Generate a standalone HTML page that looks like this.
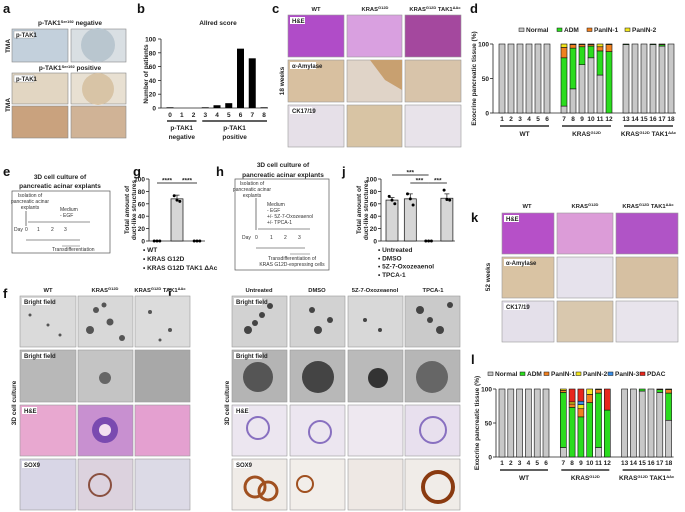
<!DOCTYPE html>
<html><head><meta charset="utf-8"><style>
html,body{margin:0;padding:0;background:#fff}
svg{display:block;font-family:"Liberation Sans",Arial,sans-serif}
.t{font-weight:bold;font-size:6.5px;fill:#222}
.ct{font-weight:bold;font-size:5.8px;fill:#222}
.s{font-size:5px;fill:#333}
.L{font-weight:bold;font-size:13px;fill:#111}
.lab{font-weight:bold;font-size:6px;fill:#222}
</style></head><body>
<svg id="fig" width="685" height="512" viewBox="0 0 685 512">
<g>
<text class="L" x="3" y="13">a</text><text class="L" x="137" y="13">b</text><text class="L" x="272" y="13">c</text><text class="L" x="470" y="13">d</text>
<text class="L" x="3" y="176">e</text><text class="L" x="133" y="176">g</text><text class="L" x="216" y="176">h</text><text class="L" x="342" y="176">j</text><text class="L" x="471" y="222">k</text>
<text class="L" x="3" y="298">f</text><text class="L" x="168" y="298">i</text><text class="L" x="471" y="364">l</text>
</g>

<g>
<text class="t" x="70" y="25" text-anchor="middle">p-TAK1<tspan font-size="4" dy="-2">Ser192</tspan><tspan dy="2"> negative</tspan></text>
<rect x="12" y="29" width="56" height="33" fill="#c3d0dc" stroke="#888" stroke-width="0.6"/>
<rect x="71" y="29" width="55" height="33" fill="#d9dfe3" stroke="#888" stroke-width="0.6"/>
<circle cx="98" cy="45" r="17" fill="#b9c6cf"/>
<rect x="14" y="31" width="20" height="7" fill="#fff" stroke="#888" stroke-width="0.4"/><text class="lab" x="16" y="37">p-TAK1</text>
<text class="t" x="70" y="70" text-anchor="middle">p-TAK1<tspan font-size="4" dy="-2">Ser192</tspan><tspan dy="2"> positive</tspan></text>
<rect x="12" y="73" width="56" height="31" fill="#e2d6c2" stroke="#888" stroke-width="0.6"/>
<rect x="71" y="73" width="55" height="31" fill="#e8e0d2" stroke="#888" stroke-width="0.6"/>
<circle cx="98" cy="89" r="16" fill="#d8c4a6"/>
<rect x="14" y="75" width="20" height="7" fill="#fff" stroke="#888" stroke-width="0.4"/><text class="lab" x="16" y="81">p-TAK1</text>
<rect x="12" y="106" width="56" height="32" fill="#c9a27e" stroke="#888" stroke-width="0.6"/>
<rect x="71" y="106" width="55" height="32" fill="#d0b396" stroke="#888" stroke-width="0.6"/>
<text class="t" transform="translate(10,46) rotate(-90)" text-anchor="middle">TMA</text>
<text class="t" transform="translate(10,105) rotate(-90)" text-anchor="middle">TMA</text>
</g>

<g>
<text class="ct" x="316" y="11" text-anchor="middle">WT</text>
<text class="ct" x="375" y="11" text-anchor="middle">KRAS<tspan font-size="4" dy="-2">G12D</tspan></text>
<text class="ct" x="435" y="11" text-anchor="middle">KRAS<tspan font-size="4" dy="-2">G12D</tspan><tspan dy="2"> TAK1</tspan><tspan font-size="4" dy="-2">ΔAc</tspan></text>
<rect x="288" y="15" width="56" height="42" fill="#b04cc8" stroke="#999" stroke-width="0.6"/>
<rect x="347" y="15" width="55" height="42" fill="#d9a0e0" stroke="#999" stroke-width="0.6"/>
<rect x="405" y="15" width="56" height="42" fill="#a4489e" stroke="#999" stroke-width="0.6"/>
<rect x="288" y="60" width="56" height="42" fill="#d8c0a0" stroke="#999" stroke-width="0.6"/>
<rect x="347" y="60" width="55" height="42" fill="#e0d4c8" stroke="#999" stroke-width="0.6"/>
<path d="M370,60 L402,60 L402,90 L385,80 Z" fill="#c8a070"/>
<rect x="405" y="60" width="56" height="42" fill="#d8c4aa" stroke="#999" stroke-width="0.6"/>
<rect x="288" y="105" width="56" height="42" fill="#e6e0e8" stroke="#999" stroke-width="0.6"/>
<rect x="347" y="105" width="55" height="42" fill="#d8c4a4" stroke="#999" stroke-width="0.6"/>
<rect x="405" y="105" width="56" height="42" fill="#e8e3ea" stroke="#999" stroke-width="0.6"/>
<rect x="290" y="17" width="15" height="7" fill="#fff"/><text class="lab" x="292" y="23">H&amp;E</text>
<rect x="290" y="62" width="26" height="7" fill="#fff"/><text class="lab" x="292" y="68">α-Amylase</text>
<rect x="290" y="107" width="22" height="7" fill="#fff"/><text class="lab" x="292" y="113">CK17/19</text>
<text class="t" transform="translate(284,81) rotate(-90)" text-anchor="middle">18 weeks</text>
</g>

<g>
<text class="ct" x="527" y="208" text-anchor="middle">WT</text>
<text class="ct" x="585" y="208" text-anchor="middle">KRAS<tspan font-size="4" dy="-2">G12D</tspan></text>
<text class="ct" x="648" y="208" text-anchor="middle">KRAS<tspan font-size="4" dy="-2">G12D</tspan><tspan dy="2"> TAK1</tspan><tspan font-size="4" dy="-2">ΔAc</tspan></text>
<rect x="502" y="213" width="52" height="41" fill="#b650c8" stroke="#999" stroke-width="0.6"/>
<rect x="557" y="213" width="56" height="41" fill="#dc9cd8" stroke="#999" stroke-width="0.6"/>
<rect x="616" y="213" width="62" height="41" fill="#b054c6" stroke="#999" stroke-width="0.6"/>
<rect x="502" y="257" width="52" height="41" fill="#d9c3a3" stroke="#999" stroke-width="0.6"/>
<rect x="557" y="257" width="56" height="41" fill="#e6e2ec" stroke="#999" stroke-width="0.6"/>
<rect x="616" y="257" width="62" height="41" fill="#d6c0a2" stroke="#999" stroke-width="0.6"/>
<rect x="502" y="301" width="52" height="41" fill="#e4e0ea" stroke="#999" stroke-width="0.6"/>
<rect x="557" y="301" width="56" height="41" fill="#d9c8ae" stroke="#999" stroke-width="0.6"/>
<rect x="616" y="301" width="62" height="41" fill="#e8e4ec" stroke="#999" stroke-width="0.6"/>
<rect x="504" y="215" width="15" height="7" fill="#fff"/><text class="lab" x="506" y="221">H&amp;E</text>
<rect x="504" y="259" width="26" height="7" fill="#fff"/><text class="lab" x="506" y="265">α-Amylase</text>
<rect x="504" y="303" width="22" height="7" fill="#fff"/><text class="lab" x="506" y="309">CK17/19</text>
<text class="t" transform="translate(490,277) rotate(-90)" text-anchor="middle">52 weeks</text>
</g>

<g>
<text class="t" x="60" y="179" text-anchor="middle">3D cell culture of</text>
<text class="t" x="60" y="188" text-anchor="middle">pancreatic acinar explants</text>
<rect x="12" y="191" width="98" height="62" fill="none" stroke="#555" stroke-width="0.7"/>
<text class="s" x="30" y="197" text-anchor="middle">Isolation of</text><text class="s" x="30" y="203" text-anchor="middle">pancreatic acinar</text><text class="s" x="30" y="209" text-anchor="middle">explants</text>
<line x1="26" y1="211" x2="26" y2="226" stroke="#222" stroke-width="0.6"/>
<text class="s" x="60" y="211">Medium</text><text class="s" x="60" y="217">- EGF</text>
<line x1="28" y1="222" x2="90" y2="222" stroke="#222" stroke-width="0.6"/>
<text class="s" x="14" y="231">Day</text><text class="s" x="25" y="231">0</text><text class="s" x="37" y="231">1</text><text class="s" x="51" y="231">2</text><text class="s" x="64" y="231">3</text>
<line x1="26" y1="240" x2="80" y2="240" stroke="#222" stroke-width="0.6"/>
<line x1="62" y1="246" x2="80" y2="246" stroke="#bbb" stroke-width="1.2"/>
<text class="s" x="52" y="251">Transdifferentiation</text>
</g>

<g>
<text class="t" x="283" y="167" text-anchor="middle">3D cell culture of</text>
<text class="t" x="283" y="177" text-anchor="middle">pancreatic acinar explants</text>
<rect x="235" y="179" width="94" height="91" fill="none" stroke="#555" stroke-width="0.7"/>
<text class="s" x="252" y="185" text-anchor="middle">Isolation of</text><text class="s" x="252" y="191" text-anchor="middle">pancreatic acinar</text><text class="s" x="252" y="197" text-anchor="middle">explants</text>
<line x1="256" y1="198" x2="256" y2="230" stroke="#222" stroke-width="0.6"/>
<text class="s" x="267" y="206">Medium</text><text class="s" x="267" y="212">- EGF</text><text class="s" x="267" y="218">+/- 5Z-7-Oxozeaenol</text><text class="s" x="267" y="224">+/- TPCA-1</text>
<line x1="258" y1="229" x2="310" y2="229" stroke="#222" stroke-width="0.6"/>
<text class="s" x="242" y="239">Day</text><text class="s" x="255" y="239">0</text><text class="s" x="270" y="239">1</text><text class="s" x="284" y="239">2</text><text class="s" x="298" y="239">3</text>
<line x1="256" y1="248" x2="305" y2="248" stroke="#222" stroke-width="0.6"/>
<line x1="290" y1="254" x2="310" y2="254" stroke="#bbb" stroke-width="1.2"/>
<text class="s" x="292" y="260" text-anchor="middle">Transdifferentiation of</text><text class="s" x="292" y="266" text-anchor="middle">KRAS G12D-expressing cells</text>
</g>

<g>
<text class="ct" x="48" y="292" text-anchor="middle">WT</text>
<text class="ct" x="105" y="292" text-anchor="middle">KRAS<tspan font-size="4" dy="-2">G12D</tspan></text>
<text class="ct" x="160" y="292" text-anchor="middle">KRAS<tspan font-size="4" dy="-2">G12D</tspan><tspan dy="2"> TAK1</tspan><tspan font-size="4" dy="-2">ΔAc</tspan></text>
<rect x="20" y="296" width="56" height="51" fill="#dadada" stroke="#999" stroke-width="0.6"/>
<rect x="78" y="296" width="55" height="51" fill="#d8d8d8" stroke="#999" stroke-width="0.6"/>
<rect x="135" y="296" width="55" height="51" fill="#dcdcdc" stroke="#999" stroke-width="0.6"/>
<g fill="#555"><circle cx="96" cy="310" r="3"/><circle cx="110" cy="322" r="3.5"/><circle cx="90" cy="330" r="4"/><circle cx="122" cy="338" r="3"/><circle cx="104" cy="305" r="2.5"/>
<circle cx="30" cy="315" r="1.5"/><circle cx="48" cy="325" r="1.5"/><circle cx="60" cy="335" r="1.5"/><circle cx="150" cy="312" r="2"/><circle cx="170" cy="330" r="2"/><circle cx="160" cy="340" r="1.5"/></g>
<rect x="20" y="350" width="56" height="52" fill="#b8b8b8" stroke="#999" stroke-width="0.6"/>
<rect x="78" y="350" width="55" height="52" fill="#c4c4c4" stroke="#999" stroke-width="0.6"/>
<rect x="135" y="350" width="55" height="52" fill="#a8a8a8" stroke="#999" stroke-width="0.6"/>
<rect x="20" y="405" width="56" height="51" fill="#e8a8d0" stroke="#999" stroke-width="0.6"/>
<rect x="78" y="405" width="55" height="51" fill="#c890d0" stroke="#999" stroke-width="0.6"/>
<rect x="135" y="405" width="55" height="51" fill="#e4a0d0" stroke="#999" stroke-width="0.6"/>
<rect x="20" y="459" width="56" height="51" fill="#d8d6e6" stroke="#999" stroke-width="0.6"/>
<rect x="78" y="459" width="55" height="51" fill="#dcd2de" stroke="#999" stroke-width="0.6"/>
<rect x="135" y="459" width="55" height="51" fill="#dcdae6" stroke="#999" stroke-width="0.6"/>
<circle cx="105" cy="378" r="6" fill="#666"/><circle cx="105" cy="430" r="13" fill="#7a4ab0"/><circle cx="105" cy="430" r="6" fill="#f3e0f0"/>
<circle cx="100" cy="485" r="11" fill="none" stroke="#8a5040" stroke-width="2"/>
<rect x="22" y="298" width="28" height="7" fill="#fff"/><text class="lab" x="24" y="304">Bright field</text>
<rect x="22" y="352" width="28" height="7" fill="#fff"/><text class="lab" x="24" y="358">Bright field</text>
<rect x="22" y="407" width="15" height="7" fill="#fff"/><text class="lab" x="24" y="413">H&amp;E</text>
<rect x="22" y="461" width="16" height="7" fill="#fff"/><text class="lab" x="24" y="467">SOX9</text>
<text class="t" transform="translate(16,403) rotate(-90)" text-anchor="middle">3D cell culture</text>
</g>

<g>
<text class="ct" x="259" y="292" text-anchor="middle">Untreated</text>
<text class="ct" x="317" y="292" text-anchor="middle">DMSO</text>
<text class="ct" x="375" y="292" text-anchor="middle">5Z-7-Oxozeaenol</text>
<text class="ct" x="433" y="292" text-anchor="middle">TPCA-1</text>
<rect x="232" y="296" width="55" height="51" fill="#d2d2d2" stroke="#999" stroke-width="0.6"/>
<rect x="290" y="296" width="55" height="51" fill="#d2d2d2" stroke="#999" stroke-width="0.6"/>
<rect x="348" y="296" width="55" height="51" fill="#d8d8d8" stroke="#999" stroke-width="0.6"/>
<rect x="405" y="296" width="55" height="51" fill="#cacaca" stroke="#999" stroke-width="0.6"/>
<g fill="#444"><circle cx="248" cy="330" r="4"/><circle cx="262" cy="315" r="3"/><circle cx="270" cy="306" r="3"/><circle cx="255" cy="323" r="3"/><circle cx="312" cy="310" r="3"/><circle cx="318" cy="330" r="4"/><circle cx="330" cy="320" r="3"/><circle cx="365" cy="320" r="2"/><circle cx="380" cy="330" r="2"/><circle cx="420" cy="310" r="4"/><circle cx="440" cy="330" r="4"/><circle cx="450" cy="305" r="3"/><circle cx="430" cy="320" r="3"/></g>
<rect x="232" y="350" width="55" height="52" fill="#b4b4b4" stroke="#999" stroke-width="0.6"/>
<rect x="290" y="350" width="55" height="52" fill="#b8b8b8" stroke="#999" stroke-width="0.6"/>
<rect x="348" y="350" width="55" height="52" fill="#bababa" stroke="#999" stroke-width="0.6"/>
<rect x="405" y="350" width="55" height="52" fill="#b6b6b6" stroke="#999" stroke-width="0.6"/>
<circle cx="258" cy="377" r="15" fill="#555"/><circle cx="318" cy="377" r="16" fill="#444"/><circle cx="378" cy="378" r="10" fill="#333"/><circle cx="432" cy="377" r="16" fill="#666"/>
<rect x="232" y="405" width="55" height="51" fill="#ece6f0" stroke="#999" stroke-width="0.6"/>
<rect x="290" y="405" width="55" height="51" fill="#ece6f0" stroke="#999" stroke-width="0.6"/>
<rect x="348" y="405" width="55" height="51" fill="#eee8f0" stroke="#999" stroke-width="0.6"/>
<rect x="405" y="405" width="55" height="51" fill="#e8e0ee" stroke="#999" stroke-width="0.6"/>
<circle cx="258" cy="428" r="11" fill="none" stroke="#8870c0" stroke-width="2"/><circle cx="320" cy="432" r="11" fill="none" stroke="#8870c0" stroke-width="2"/><circle cx="433" cy="430" r="13" fill="none" stroke="#8870c0" stroke-width="2"/>
<rect x="232" y="459" width="55" height="51" fill="#f0ece8" stroke="#999" stroke-width="0.6"/>
<rect x="290" y="459" width="55" height="51" fill="#f2eeea" stroke="#999" stroke-width="0.6"/>
<rect x="348" y="459" width="55" height="51" fill="#eee8e4" stroke="#999" stroke-width="0.6"/>
<rect x="405" y="459" width="55" height="51" fill="#f0ece8" stroke="#999" stroke-width="0.6"/>
<circle cx="255" cy="487" r="10" fill="none" stroke="#a05020" stroke-width="3"/><circle cx="268" cy="491" r="9" fill="none" stroke="#a05020" stroke-width="3"/><circle cx="305" cy="484" r="8" fill="none" stroke="#a05020" stroke-width="2"/><circle cx="438" cy="487" r="15" fill="none" stroke="#8a3a10" stroke-width="4"/>
<rect x="234" y="298" width="28" height="7" fill="#fff"/><text class="lab" x="236" y="304">Bright field</text>
<rect x="234" y="352" width="28" height="7" fill="#fff"/><text class="lab" x="236" y="358">Bright field</text>
<rect x="234" y="407" width="15" height="7" fill="#fff"/><text class="lab" x="236" y="413">H&amp;E</text>
<rect x="234" y="461" width="16" height="7" fill="#fff"/><text class="lab" x="236" y="467">SOX9</text>
<text class="t" transform="translate(229,403) rotate(-90)" text-anchor="middle">3D cell culture</text>
</g>
<g id="charts"></g>
</svg>
<script>
// ---- panel b data ----
const bCats = ['0','1','2','3','4','5','6','7','8'];
const bVals = [1, 0, 0, 1, 4, 7, 86, 72, 1];
const bTicks = [0, 20, 40, 60, 80, 100];
// ---- panel d data ----
const dSamples = ['1','2','3','4','5','6','7','8','9','10','11','12','13','14','15','16','17','18'];
const dNormal = [100,100,100,100,100,100,10,35,70,80,55,0,99,100,100,99,97,100];
const dADM    = [0,0,0,0,0,0,70,59,26,17,35,89,1,0,0,1,2,0];
const dPanIN1 = [0,0,0,0,0,0,15,5,3,2,6,10,0,0,0,0,1,0];
const dPanIN2 = [0,0,0,0,0,0,5,1,1,1,4,1,0,0,0,0,0,0];
const dTicks = [0, 50, 100];
// ---- panel l data ----
const lNormal = [100,100,100,100,100,100,14,0,0,0,14,0,100,100,97,100,95,54];
const lADM    = [0,0,0,0,0,0,81,73,59,80,80,69,0,0,3,0,4,40];
const lPanIN1 = [0,0,0,0,0,0,3,5,12,12,5,0,0,0,0,0,1,5];
const lPanIN2 = [0,0,0,0,0,0,2,3,6,8,1,0,0,0,0,0,0,1];
const lPanIN3 = [0,0,0,0,0,0,0,0,5,0,0,0,0,0,0,0,0,0];
const lPDAC   = [0,0,0,0,0,0,0,19,18,0,0,31,0,0,0,0,0,0];
// ---- panel g data ----
const gGroups = ['WT','KRAS G12D','KRAS G12D TAK1 ΔAc'];
const gMeans = [0, 68, 0];
const gErr = [0, 6, 0];
const gPoints = [[0,0,0],[73,66,64],[0,0,0]];
const gTicks = [0,20,40,60,80,100];
// ---- panel j data ----
const jGroups = ['Untreated','DMSO','5Z-7-Oxozeaenol','TPCA-1'];
const jMeans = [66, 68, 0, 69];
const jErr = [4, 8, 0, 7];
const jPoints = [[72,66,60],[76,68,58],[0,0,0],[82,67,66]];

const NS='http://www.w3.org/2000/svg';
const root=document.getElementById('charts');
function mk(tag,a,p){const e=document.createElementNS(NS,tag);for(const k in a)e.setAttribute(k,a[k]);(p||root).appendChild(e);return e;}
function txt(s,a,p){const e=mk('text',a,p);e.textContent=s;return e;}

(function(){
  const g=mk('g',{});
  
  
  const y=v=>108-v*0.69, x=i=>170+i*11.75;
  txt('Allred score',{x:218,y:25,'text-anchor':'middle',class:'t'},g);
  const ax=mk('path',{d:'M161,39V108H268',fill:'none',stroke:'#222','stroke-width':0.8},g);
  
  
  bTicks.forEach(t=>{mk('line',{x1:158,x2:161,y1:y(t),y2:y(t),stroke:'#222','stroke-width':0.8},g);
    const tl=txt(String(t),{x:156,y:y(t)+2.5,'text-anchor':'end',class:'t','font-weight':'normal'},g);
    
    });
  const yt=txt('Number of patients',{transform:'translate(148,74) rotate(-90)','text-anchor':'middle',class:'t'},g);
  
  
  bCats.forEach((c,i)=>{
    const r=mk('rect',{x:x(i)-3.5,y:y(bVals[i]),width:7,height:bVals[i]*0.69,fill:'#000'},g);
    
    
    txt(c,{x:x(i),y:117,'text-anchor':'middle',class:'t','font-weight':'normal','font-size':7},g);
  });
  mk('line',{x1:x(0)-3,x2:x(2)+3,y1:121,y2:121,stroke:'#000','stroke-width':1.2},g);
  mk('line',{x1:x(3)-3,x2:x(8)+3,y1:121,y2:121,stroke:'#000','stroke-width':1.2},g);
  txt('p-TAK1',{x:x(1),y:130,'text-anchor':'middle',class:'t'},g);
  txt('negative',{x:x(1),y:139,'text-anchor':'middle',class:'t'},g);
  txt('p-TAK1',{x:x(5.5),y:130,'text-anchor':'middle',class:'t'},g);
  txt('positive',{x:x(5.5),y:139,'text-anchor':'middle',class:'t'},g);
})();

function stacked(cfg){
  const g=mk('g',{});
  
  
  const y=v=>cfg.y0-v*(cfg.y0-cfg.y100)/100;
  const x=i=>cfg.x1+i*cfg.step+(i>=6?cfg.gap:0)+(i>=12?cfg.gap:0);
  const ax=mk('path',{d:`M${cfg.ax},${cfg.y100}V${cfg.y0}H${x(17)+5}`,fill:'none',stroke:'#222','stroke-width':0.8},g);
  
  
  dTicks.forEach(t=>{mk('line',{x1:cfg.ax-3,x2:cfg.ax,y1:y(t),y2:y(t),stroke:'#222','stroke-width':0.8},g);
    txt(String(t),{x:cfg.ax-4,y:y(t)+2.5,'text-anchor':'end',class:'t','font-weight':'normal'},g);});
  const yt=txt('Exocrine pancreatic tissue (%)',{transform:`translate(${cfg.ax-17},${(cfg.y0+cfg.y100)/2}) rotate(-90)`,'text-anchor':'middle',class:'t','font-size':6},g);
  
  
  dSamples.forEach((s,i)=>{
    let acc=0;
    cfg.series.forEach((ser,k)=>{
      const v=ser[i]; if(v<=0) return;
      const r=mk('rect',{x:x(i)-cfg.w/2,y:y(acc+v),width:cfg.w,height:y(acc)-y(acc+v),fill:cfg.colors[k],stroke:'#111','stroke-width':0.6},g);
      
      
      acc+=v;
    });
    txt(s,{x:x(i),y:cfg.y0+8,'text-anchor':'middle',class:'t','font-weight':'normal'},g);
  });
  const grp=[['WT',0,5],['KRAS',6,11],['KT',12,17]];
  grp.forEach(([n,a,b])=>{mk('line',{x1:x(a)-2,x2:x(b)+2,y1:cfg.y0+13,y2:cfg.y0+13,stroke:'#000','stroke-width':1.3},g);});
  txt('WT',{x:(x(0)+x(5))/2,y:cfg.y0+23,'text-anchor':'middle',class:'t'},g);
  const k1=txt('KRAS',{x:(x(6)+x(11))/2,y:cfg.y0+23,'text-anchor':'middle',class:'t'},g);
  const t2=mk('tspan',{'font-size':4,dy:-2},k1);t2.textContent='G12D';
  const k2=txt('KRAS',{x:(x(12)+x(17))/2,y:cfg.y0+23,'text-anchor':'middle',class:'t'},g);
  const t3=mk('tspan',{'font-size':4,dy:-2},k2);t3.textContent='G12D';
  const t4=mk('tspan',{dy:2},k2);t4.textContent=' TAK1';
  const t5=mk('tspan',{'font-size':4,dy:-2},k2);t5.textContent='ΔAc';
  let lx=cfg.legX;
  cfg.keys.forEach((kname,k)=>{
    const sw=mk('rect',{x:lx,y:cfg.legY-4,width:5,height:3.5,fill:cfg.colors[k],stroke:'#111','stroke-width':0.5},g);
    
    
    const lt=txt(cfg.labels[k],{x:lx+7,y:cfg.legY,class:'t'},g);
    
    
    lx+=cfg.legW[k];
  });
}
const C={N:'#c8c8c8',A:'#2bdc1e',P1:'#f08020',P2:'#f2e61e',P3:'#3a8ee6',PD:'#e8261c'};
stacked({name:'panel-d-chart',x1:502,step:9,gap:8,w:6,ax:493,y0:113,y100:44,
  series:[dNormal,dADM,dPanIN1,dPanIN2],colors:[C.N,C.A,C.P1,C.P2],keys:['normal','adm','panin1','panin2'],
  labels:['Normal','ADM','PanIN-1','PanIN-2'],legX:519,legY:32,legW:[38,30,38,32]});
stacked({name:'panel-l-chart',x1:502,step:8.8,gap:8.5,w:6,ax:496,y0:457,y100:389,
  series:[lNormal,lADM,lPanIN1,lPanIN2,lPanIN3,lPDAC],colors:[C.N,C.A,C.P1,C.P2,C.P3,C.PD],keys:['normal','adm','panin1','panin2','panin3','pdac'],
  labels:['Normal','ADM','PanIN-1','PanIN-2','PanIN-3','PDAC'],legX:488,legY:376,legW:[32,24,32,32,32,30]});

function dotbar(cfg){
  const g=mk('g',{});
  
  
  const y=v=>cfg.y0-v*(cfg.y0-cfg.y100)/100;
  const x=i=>cfg.xc0+i*cfg.step;
  const ax=mk('path',{d:`M${cfg.ax},${cfg.y100}V${cfg.y0}H${x(cfg.means.length-1)+8}`,fill:'none',stroke:'#222','stroke-width':0.8},g);
  
  
  gTicks.forEach(t=>{mk('line',{x1:cfg.ax-3,x2:cfg.ax,y1:y(t),y2:y(t),stroke:'#222','stroke-width':0.8},g);
    txt(String(t),{x:cfg.ax-4,y:y(t)+2.5,'text-anchor':'end',class:'t','font-weight':'normal','font-size':7},g);});
  const yt=txt('Total amount of',{transform:`translate(${cfg.ax-20},${(cfg.y0+cfg.y100)/2}) rotate(-90)`,'text-anchor':'middle',class:'t','font-size':7},g);
  
  
  txt('duct-like structures',{transform:`translate(${cfg.ax-13},${(cfg.y0+cfg.y100)/2}) rotate(-90)`,'text-anchor':'middle',class:'t','font-size':7},g);
  cfg.means.forEach((m,i)=>{
    if(m>0){
      const r=mk('rect',{x:x(i)-cfg.w/2,y:y(m),width:cfg.w,height:y(0)-y(m),fill:'#d6d6d6',stroke:'#111','stroke-width':0.7},g);
      
      
      mk('line',{x1:x(i),x2:x(i),y1:y(m),y2:y(m+cfg.err[i]),stroke:'#111','stroke-width':0.7},g);
      mk('line',{x1:x(i)-2.5,x2:x(i)+2.5,y1:y(m+cfg.err[i]),y2:y(m+cfg.err[i]),stroke:'#111','stroke-width':0.7},g);
    }
    cfg.points[i].forEach((p,k)=>{
      const c=mk('circle',{cx:x(i)+(k-1)*2.8,cy:y(p),r:1.5,fill:'#000'},g);
      
      
    });
  });
  cfg.sig.forEach(([a,b,yy,s])=>{mk('line',{x1:x(a),x2:x(b),y1:yy,y2:yy,stroke:'#000','stroke-width':0.8},g);
    txt(s,{x:(x(a)+x(b))/2,y:yy-0.5,'text-anchor':'middle',class:'t','font-size':7},g);});
  cfg.legend.forEach((s,k)=>{
    const lt=txt('• '+s,{x:cfg.legX,y:cfg.legY+k*cfg.legDy,class:'t','font-size':7},g);
    
    
  });
}
dotbar({name:'panel-g-chart',ax:149,y0:241,y100:179,xc0:157,step:20,w:12,means:gMeans,err:gErr,points:gPoints,groups:gGroups,
  sig:[[0,1,183,'****'],[1,2,183,'****']],legend:['WT','KRAS G12D','KRAS G12D TAK1 ΔAc'],legX:143,legY:252,legDy:9});
dotbar({name:'panel-j-chart',ax:381,y0:241,y100:179,xc0:392,step:18.3,w:12,means:jMeans,err:jErr,points:jPoints,groups:jGroups,
  sig:[[0,2,175,'***'],[1,2,183,'***'],[2,3,183,'***']],legend:jGroups,legX:378,legY:252,legDy:8.3});
</script>
</body></html>
